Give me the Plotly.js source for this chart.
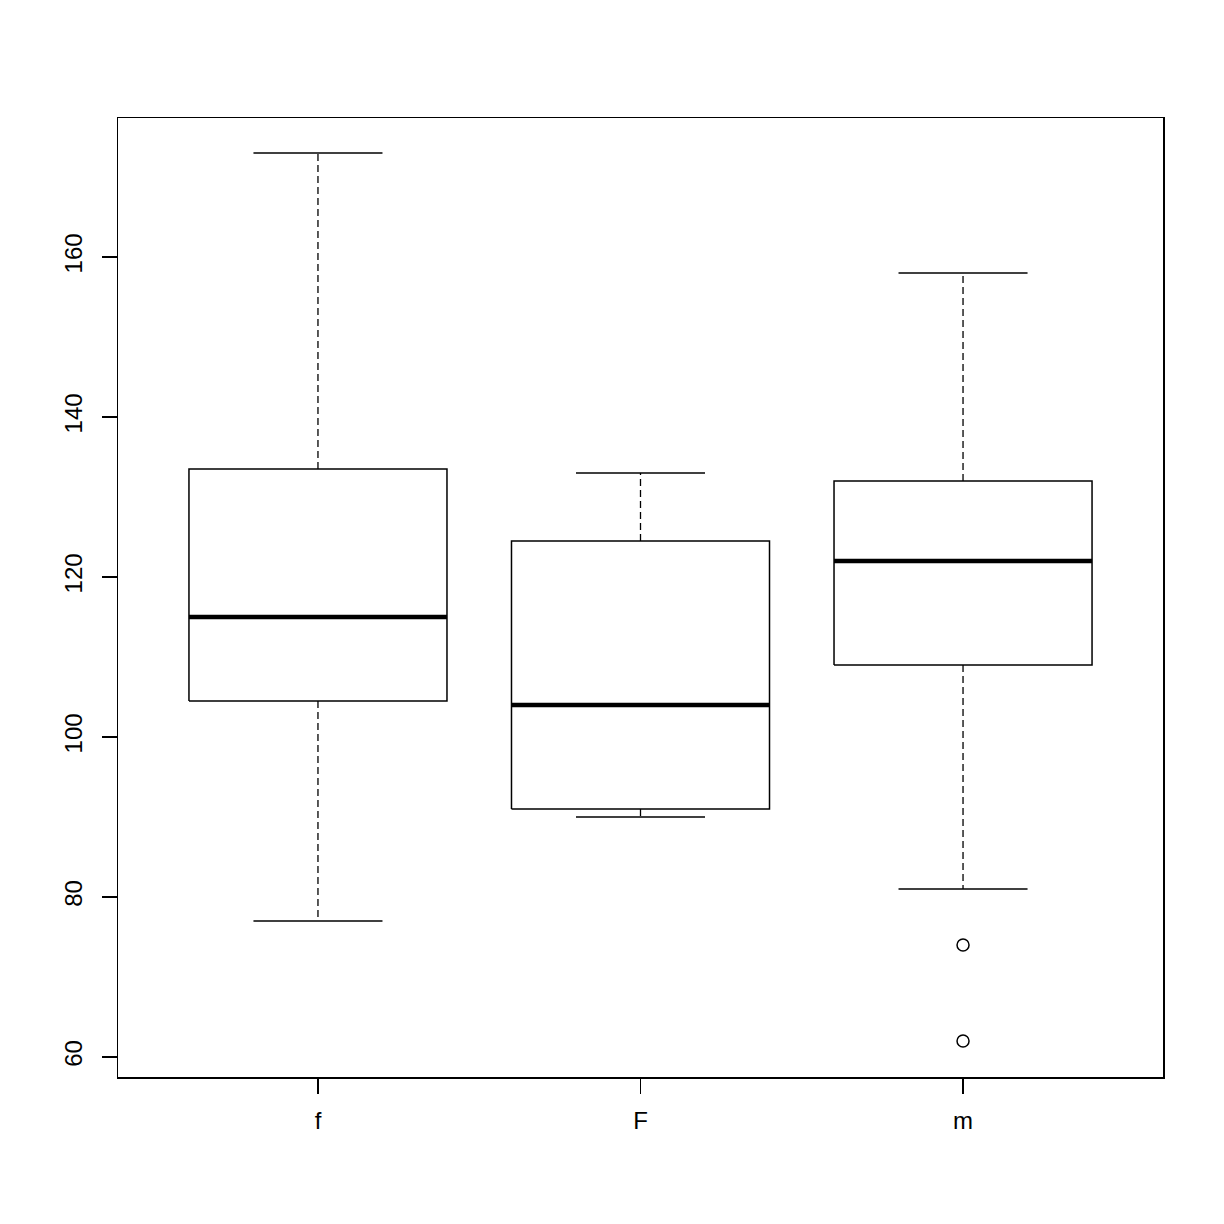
<!DOCTYPE html>
<html>
<head>
<meta charset="utf-8">
<script src="https://cdn.plot.ly/plotly-3.0.1.min.js"></script>
<style>body{margin:0;background:#fff;} #chart{width:1224px;height:1224px;}</style>
</head>
<body>
<div id="chart"></div>
<script>
const groups = ["f", "F", "m"];
const lowerWhisker = [77, 90, 81];
const q1 = [104.5, 91, 109];
const median = [115, 104, 122];
const q3 = [133.5, 124.5, 132];
const upperWhisker = [173, 133, 158];
const outlierGroup = ["m", "m"];
const outlierValue = [74, 62];

const halfBox = 0.4;
const halfCap = 0.2;

// build path arrays for all groups with null breaks
let boxX = [], boxY = [], medX = [], medY = [], whiskX = [], whiskY = [], capX = [], capY = [];
groups.forEach((g, i) => {
    const c = i + 1;
    boxX.push(c - halfBox, c + halfBox, c + halfBox, c - halfBox, c - halfBox, null);
    boxY.push(q1[i], q1[i], q3[i], q3[i], q1[i], null);
    medX.push(c - halfBox, c + halfBox, null);
    medY.push(median[i], median[i], null);
    whiskX.push(c, c, null, c, c, null);
    whiskY.push(q3[i], upperWhisker[i], null, q1[i], lowerWhisker[i], null);
    capX.push(c - halfCap, c + halfCap, null, c - halfCap, c + halfCap, null);
    capY.push(upperWhisker[i], upperWhisker[i], null, lowerWhisker[i], lowerWhisker[i], null);
});

const black = "#000000";
const traces = [
    {x: whiskX, y: whiskY, mode: "lines", line: {color: black, width: 1.3, dash: "7px,4px"}, hoverinfo: "skip"},
    {x: capX, y: capY, mode: "lines", line: {color: black, width: 1.5}, hoverinfo: "skip"},
    {x: boxX, y: boxY, mode: "lines", line: {color: black, width: 1.5}, hoverinfo: "skip"},
    {x: medX, y: medY, mode: "lines", line: {color: black, width: 4.5}, hoverinfo: "skip"},
    {
        x: outlierGroup.map(g => groups.indexOf(g) + 1),
        y: outlierValue,
        mode: "markers",
        marker: {symbol: "circle-open", size: 12, color: black, line: {width: 1.5, color: black}}
    }
];

const font = {family: "'Liberation Sans', Arial, sans-serif", size: 24, color: black};
const layout = {
    width: 1224, height: 1224,
    margin: {l: 118, r: 61, t: 118, b: 147},
    paper_bgcolor: "#fff", plot_bgcolor: "#fff",
    showlegend: false,
    font: font,
    xaxis: {
        range: [0.38, 3.62],
        tickvals: groups.map((g, i) => i + 1),
        ticktext: groups,
        ticks: "outside", ticklen: 15, tickwidth: 1.3, tickcolor: black,
        showline: true, mirror: true, linecolor: black, linewidth: 1.5,
        showgrid: false, zeroline: false,
        tickfont: font, ticklabelstandoff: 7
    },
    yaxis: {
        range: [57.5, 177.375],
        tickvals: [60, 80, 100, 120, 140, 160],
        ticks: "outside", ticklen: 15, tickwidth: 1.3, tickcolor: black,
        tickangle: -90,
        showline: true, mirror: true, linecolor: black, linewidth: 1.5,
        showgrid: false, zeroline: false,
        tickfont: font, ticklabelstandoff: 10
    }
};

Plotly.newPlot("chart", traces, layout, {displayModeBar: false, staticPlot: true});
</script>
</body>
</html>
